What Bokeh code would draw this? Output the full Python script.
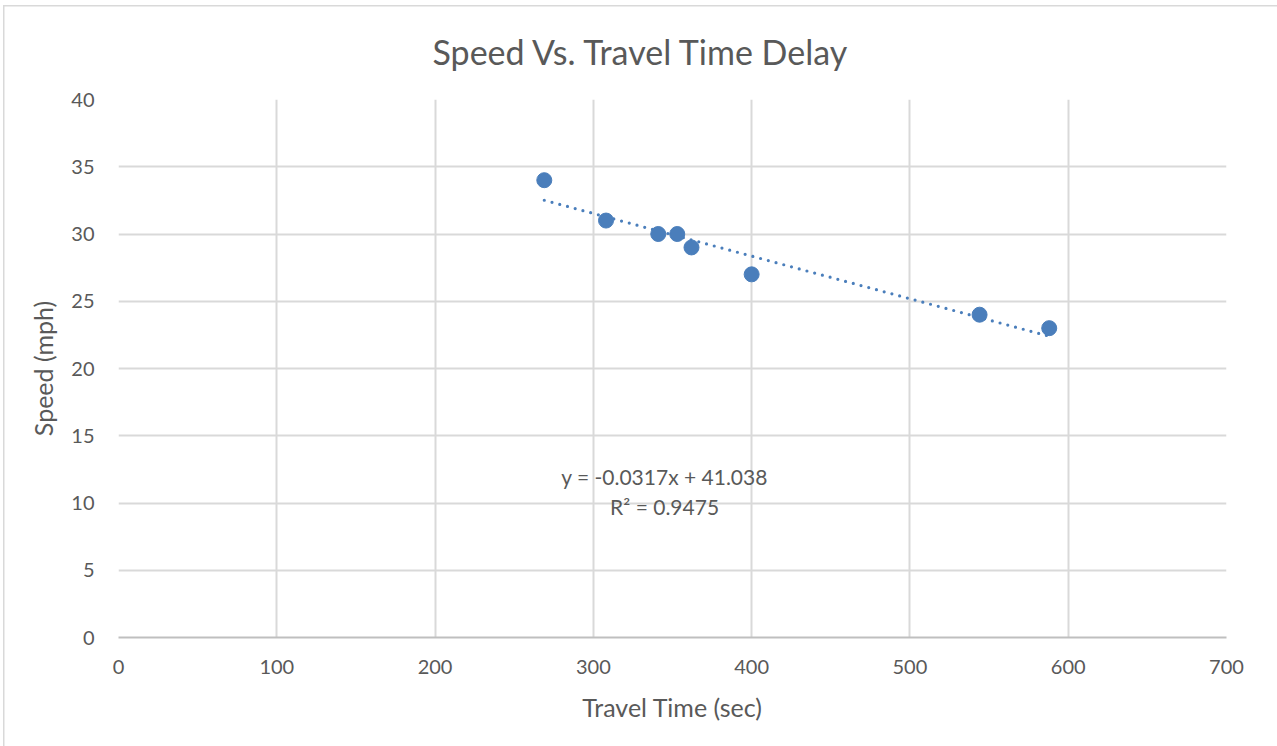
from bokeh.plotting import figure
from bokeh.models import ColumnDataSource, Label, FixedTicker
from bokeh.embed import file_html
from bokeh.resources import INLINE

# Observed runs: travel time (sec) and average speed (mph)
travel_time = [269, 308, 341, 353, 362, 400, 544, 588]
speed = [34, 31, 30, 30, 29, 27, 24, 23]

# Linear trendline coefficients and fit quality
slope = -0.0317
intercept = 41.038
r_squared = 0.9475

x_ticks = [0, 100, 200, 300, 400, 500, 600, 700]
y_ticks = [0, 5, 10, 15, 20, 25, 30, 35, 40]

FONT = "Lato"
TEXT = "#595959"
GRID = "#d9d9d9"
BLUE = "#4a7ebb"

p = figure(
    width=1277, height=746,
    x_range=(0, 700), y_range=(0, 40),
    output_backend="svg", toolbar_location=None,
    min_border_left=118, min_border_right=51,
    min_border_top=99, min_border_bottom=109,
    title="Speed Vs. Travel Time Delay",
)
p.background_fill_color = "white"
# transparent canvas border so the host element's background (with its thin chart-area edge) shows
p.border_fill_color = None
p.styles = {
    "background-color": "white",
    "background-image": "linear-gradient(#d9d9d9, #d9d9d9), linear-gradient(#d9d9d9, #d9d9d9)",
    "background-size": "1.5px 100%, 100% 1.5px",
    "background-position": "3px 5px, 3px 5px",
    "background-repeat": "no-repeat",
}
p.outline_line_color = None

p.title.align = "left"
p.title.offset = 314
p.title.text_font = FONT
p.title.text_font_size = "34px"
p.title.text_font_style = "normal"
p.title.text_color = TEXT
p.title.standoff = 56

for ax in (p.xaxis[0], p.yaxis[0]):
    ax.major_tick_line_color = None
    ax.minor_tick_line_color = None
    ax.major_tick_out = 0
    ax.major_tick_in = 0
    ax.major_label_text_font = FONT
    ax.major_label_text_font_size = "20px"
    ax.major_label_text_color = TEXT
    ax.axis_label_text_font = FONT
    ax.axis_label_text_font_size = "25px"
    ax.axis_label_text_font_style = "normal"
    ax.axis_label_text_color = TEXT

p.xaxis.ticker = FixedTicker(ticks=x_ticks)
p.yaxis.ticker = FixedTicker(ticks=y_ticks)
p.xaxis.axis_label = "Travel Time (sec)"
p.yaxis.axis_label = "Speed (mph)"
p.xaxis.axis_line_color = "#bfbfbf"
p.xaxis.axis_line_width = 2
p.yaxis.axis_line_color = None
p.xaxis.major_label_standoff = 22
p.xaxis.axis_label_standoff = 15
p.yaxis.major_label_standoff = 24
p.yaxis.axis_label_standoff = 10

p.xgrid.grid_line_color = GRID
p.ygrid.grid_line_color = GRID
p.xgrid.grid_line_width = 2
p.ygrid.grid_line_width = 2

# Dotted linear trendline across the observed span
x0, x1 = min(travel_time), max(travel_time)
trend = ColumnDataSource(dict(x=[x0, x1], y=[slope * x0 + intercept, slope * x1 + intercept]))
p.line("x", "y", source=trend, line_color=BLUE, line_width=3.2,
       line_dash="0 8", line_cap="round")

pts = ColumnDataSource(dict(x=travel_time, y=speed))
p.scatter("x", "y", source=pts, size=15, fill_color=BLUE, line_color=BLUE)

eq = "y = %.4fx + %.3f" % (slope, intercept)
p.add_layout(Label(x=345, y=11.95, text=eq, text_align="center", text_baseline="middle",
                   text_font=FONT, text_font_size="21px", text_color=TEXT))
p.add_layout(Label(x=345, y=9.75, text="R\u00b2 = %.4f" % r_squared, text_align="center",
                   text_baseline="middle", text_font=FONT, text_font_size="21px",
                   text_color=TEXT))

open("out.html", "w").write(file_html(p, INLINE))
